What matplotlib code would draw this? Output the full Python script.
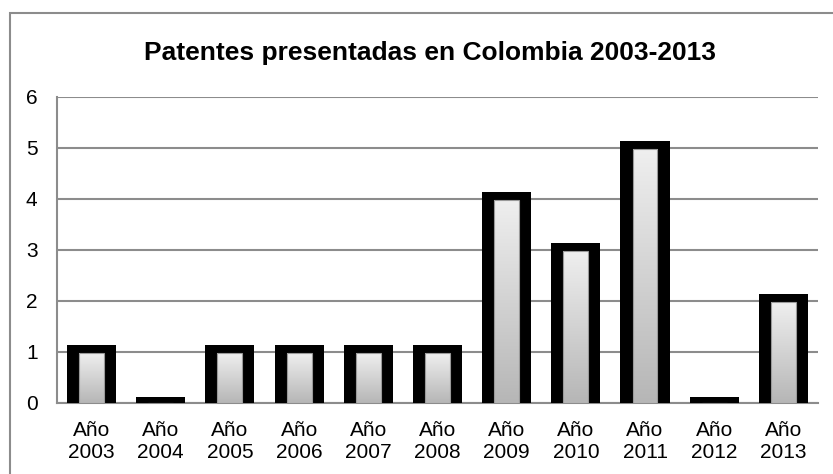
import numpy as np
from matplotlib import pyplot as plt
from matplotlib.colors import LinearSegmentedColormap
from matplotlib.patches import Rectangle

# patentes por año
years = ["2003", "2004", "2005", "2006", "2007", "2008", "2009", "2010", "2011", "2012", "2013"]
patentes = [1, 0, 1, 1, 1, 1, 4, 3, 5, 0, 2]
labels = ["Año\n" + y for y in years]

plt.rcParams['font.family'] = ['Liberation Sans', 'DejaVu Sans']

fig = plt.figure(figsize=(8.33, 4.74), dpi=100)
ax = fig.add_axes([0.0684, 0.1498, 0.9136, 0.6456])

x = np.arange(len(years))
vals = np.array(patentes, dtype=float)

# marco negro grueso (sin borde inferior) detras del relleno
outer = ax.bar(x, np.where(vals > 0, vals + 0.135, 0.12), width=0.71,
               color="black", zorder=2)
inner = ax.bar(x, np.maximum(vals - 0.02, 0), width=0.36,
               color="none", edgecolor="#9a9a9a", linewidth=0.8, zorder=4)

# degradado claro arriba, gris abajo
cmap = LinearSegmentedColormap.from_list("g", ["#efefef", "#b6b6b6"])
grad = np.linspace(0, 1, 256).reshape(-1, 1)
for b in inner:
    if b.get_height() <= 0:
        continue
    x0, y0 = b.get_x(), b.get_y()
    w, h = b.get_width(), b.get_height()
    im = ax.imshow(grad, cmap=cmap, extent=[x0, x0 + w, y0, y0 + h],
                   origin="upper", aspect="auto", zorder=3,
                   interpolation="bilinear")
    im.set_clip_path(b)

ax.set_xlim(-0.5, len(years) - 0.5)
ax.set_ylim(0, 6)
ax.set_yticks(range(0, 7))
ax.set_xticks(x)
ax.set_xticklabels(labels, fontsize=15, linespacing=1.2)
ax.tick_params(axis="y", labelsize=15, length=0, pad=14)
ax.tick_params(axis="x", length=0, pad=13)

ax.yaxis.grid(True, color="#8c8c8c", linewidth=1.5)
ax.set_axisbelow(True)
for s in ["top", "right"]:
    ax.spines[s].set_visible(False)
for s in ["left", "bottom"]:
    ax.spines[s].set_color("#8c8c8c")
    ax.spines[s].set_linewidth(1.5)
    ax.spines[s].set_zorder(1)

fig.text(0.516, 0.888, "Patentes presentadas en Colombia 2003-2013",
         ha="center", va="center", fontsize=19, fontweight="bold")

# borde exterior del grafico
fig.patches.append(Rectangle((10 / 833, -0.1), 1.0, 1 - 13 / 474 + 0.1,
                             transform=fig.transFigure, fill=False,
                             edgecolor="#8c8c8c", linewidth=1.5))

fig.savefig("out.png", dpi=100)
